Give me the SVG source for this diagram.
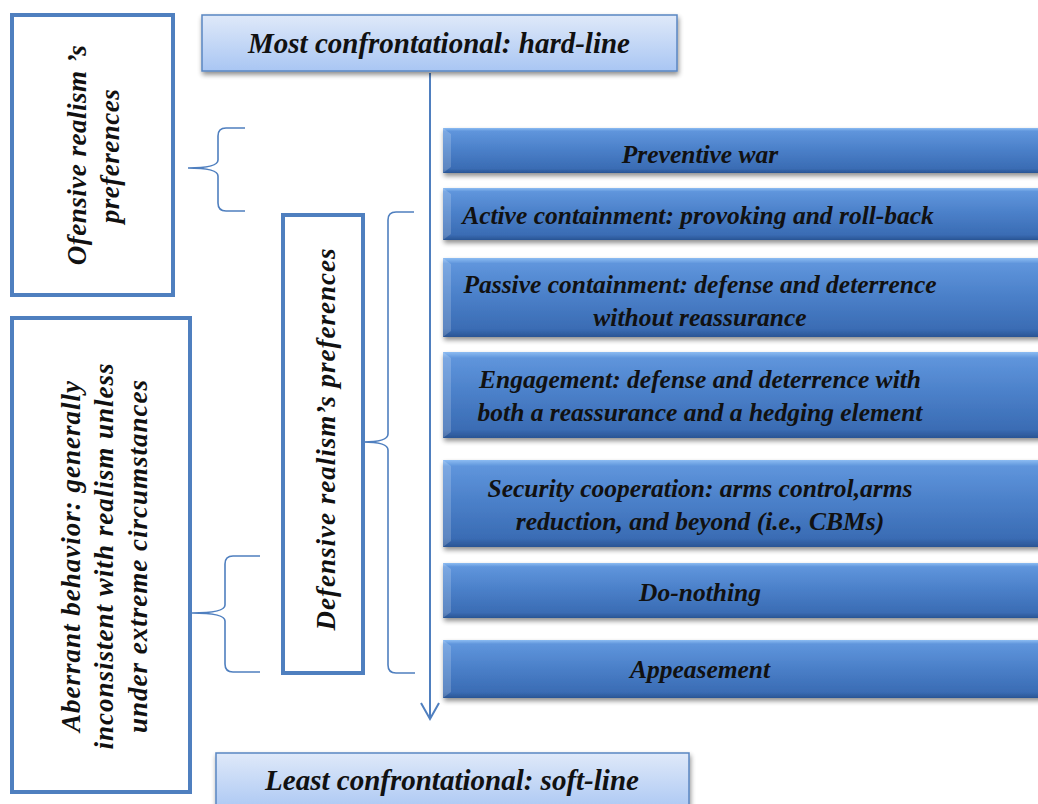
<svg xmlns="http://www.w3.org/2000/svg" width="1038" height="804" viewBox="0 0 1038 804">
  <defs>
    <style>
      .t { font-family: 'Liberation Serif', serif; font-weight: bold; font-style: italic; font-size: 25.5px; fill: #111111; }
      .big { font-size: 29px; }
      .side { font-size: 27px; letter-spacing: 0.5px; }
      .wide { font-size: 27px; letter-spacing: 1px; }
      .frame { fill: #ffffff; stroke: #4f7fbf; stroke-width: 4; }
      .bar { fill: url(#barGrad); filter: url(#shadow); }
      .bevel { fill: #ffffff; fill-opacity: 0.18; }
      .cap { fill: url(#capGrad); stroke: #5a86c2; stroke-width: 1.5; filter: url(#shadow); }
      .brace { fill: none; stroke: #4f7fbf; stroke-width: 1.6; }
      .axis { fill: none; stroke: #4f7fbf; stroke-width: 2; }
    </style>
    <linearGradient id="barGrad" x1="0" y1="0" x2="0" y2="1">
      <stop offset="0" stop-color="#8cbcf2"/>
      <stop offset="0.07" stop-color="#5f95dc"/>
      <stop offset="0.5" stop-color="#4a7fc8"/>
      <stop offset="0.9" stop-color="#3a6cb4"/>
      <stop offset="1" stop-color="#2a5594"/>
    </linearGradient>
    <linearGradient id="capGrad" x1="0" y1="0" x2="0" y2="1">
      <stop offset="0" stop-color="#dfe9f9"/>
      <stop offset="1" stop-color="#a9c6f3"/>
    </linearGradient>
    <filter id="shadow" x="-5%" y="-20%" width="115%" height="160%">
      <feGaussianBlur in="SourceAlpha" stdDeviation="2.5"/>
      <feOffset dx="1" dy="3" result="b"/>
      <feComponentTransfer><feFuncA type="linear" slope="0.45"/></feComponentTransfer>
      <feMerge><feMergeNode/><feMergeNode in="SourceGraphic"/></feMerge>
    </filter>
  </defs>

  <rect width="1038" height="804" fill="#ffffff"/>

  <!-- scale of approaches, most to least confrontational -->
  <g id="connectors">
    <path class="axis" d="M430,73 V719"/>
    <path class="axis" d="M421,703 L430,719 L439,703"/>
    <!-- offensive realism brace -->
    <path class="brace" d="M245,128 H226 Q218,128 218,136 V160 Q218,168 188,168 Q218,168 218,176 V203 Q218,211 226,211 H245"/>
    <!-- defensive realism brace -->
    <path class="brace" d="M414,212 H396 Q388,212 388,220 V434 Q388,442 363,442 Q388,442 388,450 V665 Q388,673 396,673 H415"/>
    <!-- aberrant behaviour brace -->
    <path class="brace" d="M260,556 H233 Q225,556 225,564 V605 Q225,613 192,613 Q225,613 225,621 V664 Q225,672 233,672 H260"/>
  </g>

  <g id="most-confrontational">
    <rect class="cap" x="202" y="15" width="475" height="56"/>
    <text class="t big" x="439" y="53" text-anchor="middle">Most confrontational: hard-line</text>
  </g>

  <g id="least-confrontational">
    <rect class="cap" x="216" y="753" width="473" height="60"/>
    <text class="t big" x="452" y="790" text-anchor="middle">Least confrontational: soft-line</text>
  </g>

  <g id="offensive-realism">
    <rect class="frame" x="12" y="15" width="161" height="280"/>
    <text class="t side" transform="rotate(-90 86 155)" x="86" y="155" text-anchor="middle">Ofensive realism ’s</text>
    <text class="t side" transform="rotate(-90 119 156)" x="119" y="156" text-anchor="middle">preferences</text>
  </g>

  <g id="defensive-realism">
    <rect class="frame" x="283" y="215" width="80" height="458"/>
    <text class="t wide" transform="rotate(-90 335 439)" x="335" y="439" text-anchor="middle">Defensive realism’s preferences</text>
  </g>

  <g id="aberrant-behavior">
    <rect class="frame" x="12" y="318" width="178" height="474"/>
    <text class="t wide" transform="rotate(-90 80 556)" x="80" y="556" text-anchor="middle">Aberrant behavior: generally</text>
    <text class="t wide" transform="rotate(-90 113 556)" x="113" y="556" text-anchor="middle">inconsistent with realism unless</text>
    <text class="t wide" transform="rotate(-90 147 556)" x="147" y="556" text-anchor="middle">under extreme circumstances</text>
  </g>

  <g id="preventive-war">
    <rect class="bar" x="443" y="128" width="600" height="45"/>
    <path class="bevel" d="M443,128 L451,134 V167 L443,173 Z"/>
    <text class="t" x="700" y="163" text-anchor="middle">Preventive war</text>
  </g>

  <g id="active-containment">
    <rect class="bar" x="443" y="188" width="600" height="52"/>
    <path class="bevel" d="M443,188 L451,194 V234 L443,240 Z"/>
    <text class="t" x="698" y="224" text-anchor="middle">Active containment: provoking and roll-back</text>
  </g>

  <g id="passive-containment">
    <rect class="bar" x="443" y="258" width="600" height="79"/>
    <path class="bevel" d="M443,258 L451,264 V331 L443,337 Z"/>
    <text class="t" x="700" y="293" text-anchor="middle">Passive containment: defense and deterrence</text>
    <text class="t" x="700" y="326" text-anchor="middle">without reassurance</text>
  </g>

  <g id="engagement">
    <rect class="bar" x="443" y="352" width="600" height="86"/>
    <path class="bevel" d="M443,352 L451,358 V432 L443,438 Z"/>
    <text class="t" x="700" y="388" text-anchor="middle">Engagement: defense and deterrence with</text>
    <text class="t" x="700" y="421" text-anchor="middle">both a reassurance and a hedging element</text>
  </g>

  <g id="security-cooperation">
    <rect class="bar" x="443" y="460" width="600" height="87"/>
    <path class="bevel" d="M443,460 L451,466 V541 L443,547 Z"/>
    <text class="t" x="700" y="497" text-anchor="middle">Security cooperation: arms control,arms</text>
    <text class="t" x="700" y="530" text-anchor="middle">reduction, and beyond (i.e., CBMs)</text>
  </g>

  <g id="do-nothing">
    <rect class="bar" x="443" y="563" width="600" height="55"/>
    <path class="bevel" d="M443,563 L451,569 V612 L443,618 Z"/>
    <text class="t" x="700" y="601" text-anchor="middle">Do-nothing</text>
  </g>

  <g id="appeasement">
    <rect class="bar" x="443" y="640" width="600" height="58"/>
    <path class="bevel" d="M443,640 L451,646 V692 L443,698 Z"/>
    <text class="t" x="700" y="678" text-anchor="middle">Appeasement</text>
  </g>
</svg>
